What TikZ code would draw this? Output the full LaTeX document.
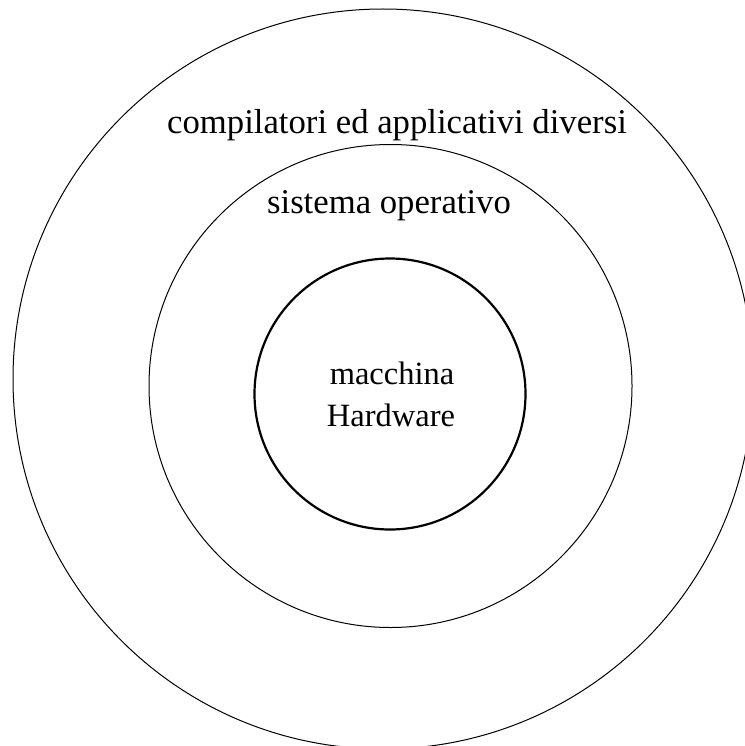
\documentclass[tikz,border=0pt]{standalone}
\usepackage{fontspec}
\setmainfont{Liberation Serif}
\begin{document}
\begin{tikzpicture}[x=1pt,y=-1pt,
  ring/.style={circle, draw=black, line width=1pt, inner sep=0pt},
  core/.style={circle, draw=black, line width=2.2pt, inner sep=0pt},
  layerlabel/.style={anchor=base, inner sep=0pt, font=\fontsize{34.7}{42}\selectfont},
  corelabel/.style={anchor=base, inner sep=0pt, font=\fontsize{32.5}{40}\selectfont}]
  \useasboundingbox (0,0) rectangle (744,746);
  % concentric layers
  \node[ring, minimum size=740pt] (apps) at (383,379) {};
  \node[ring, minimum size=483pt] (os) at (390.5,386) {};
  \node[core, minimum size=271pt] (hw) at (390,394) {};
  % labels
  \node[layerlabel] (appslabel) at (397,134) {compilatori ed applicativi diversi};
  \node[layerlabel] (oslabel) at (389,213) {sistema operativo};
  \node[corelabel] (hwlabela) at (392,384) {macchina};
  \node[corelabel] (hwlabelb) at (391,426.5) {Hardware};
\end{tikzpicture}
\end{document}
